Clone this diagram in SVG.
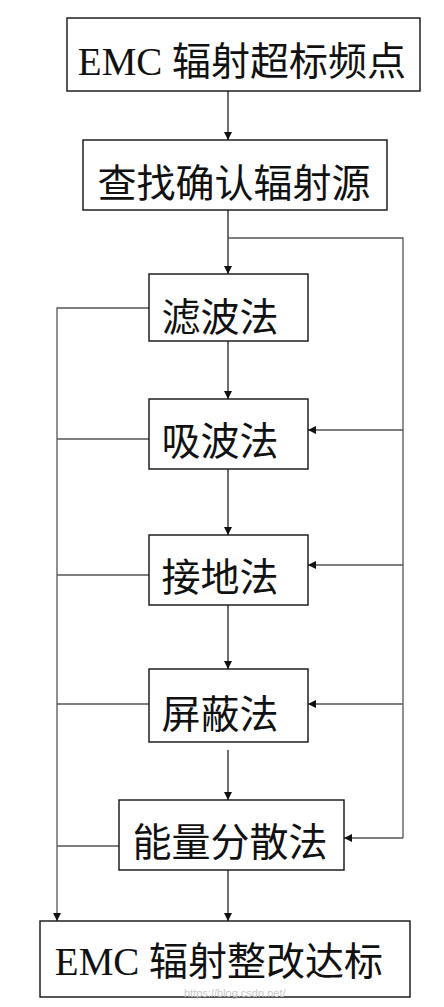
<svg xmlns="http://www.w3.org/2000/svg" width="444" height="1007" viewBox="0 0 444 1007">
<style>
.box{fill:#fff;stroke:#111;stroke-width:1.4}
.t{font-family:"Liberation Serif","Noto Sans CJK SC",serif;font-size:39px;fill:#111;text-anchor:middle}
.c{fill:none;stroke:#222;stroke-width:1.3}
.s{fill:none;stroke:#555;stroke-width:1.3}
.wm{font-family:"Liberation Sans",sans-serif;font-size:11px;fill:#c8c8c8}
</style>
<defs>
<marker id="ah" viewBox="0 0 10 10" refX="10" refY="5" markerWidth="9" markerHeight="8" markerUnits="userSpaceOnUse" orient="auto">
<path d="M0,0 L10,5 L0,10 z" fill="#111"/>
</marker>
</defs>
<g id="connectors">
<path class="c" d="M228,91 V140" marker-end="url(#ah)"/>
<path class="c" d="M228,210 V274" marker-end="url(#ah)"/>
<path class="s" d="M228,238 H403 V838"/>
<path class="c" d="M228,341 V399" marker-end="url(#ah)"/>
<path class="c" d="M228,469 V535" marker-end="url(#ah)"/>
<path class="c" d="M228,605 V669" marker-end="url(#ah)"/>
<path class="c" d="M228,750 V800" marker-end="url(#ah)"/>
<path class="c" d="M228,870 V921" marker-end="url(#ah)"/>
<path class="s" d="M403,430 H308" marker-end="url(#ah)"/>
<path class="s" d="M403,565 H308" marker-end="url(#ah)"/>
<path class="s" d="M403,704 H308" marker-end="url(#ah)"/>
<path class="s" d="M403,838 H344" marker-end="url(#ah)"/>
<path class="s" d="M149,308 H57 V921" marker-end="url(#ah)"/>
<path class="s" d="M149,439 H57"/>
<path class="s" d="M149,575 H57"/>
<path class="s" d="M149,704 H57"/>
<path class="s" d="M119,846 H57"/>
</g>
<g id="n1"><rect class="box" x="67" y="18" width="353" height="73"/><text class="t" x="242" y="75">EMC 辐射超标频点</text></g>
<g id="n2"><rect class="box" x="83" y="140" width="304" height="70"/><text class="t" x="234" y="197">查找确认辐射源</text></g>
<g id="n3"><rect class="box" x="149" y="274" width="159" height="67"/><text class="t" x="220" y="331">滤波法</text></g>
<g id="n4"><rect class="box" x="149" y="399" width="159" height="70"/><text class="t" x="220" y="455">吸波法</text></g>
<g id="n5"><rect class="box" x="149" y="535" width="159" height="70"/><text class="t" x="220" y="591">接地法</text></g>
<g id="n6"><rect class="box" x="149" y="669" width="159" height="73"/><text class="t" x="220" y="728">屏蔽法</text></g>
<g id="n7"><rect class="box" x="119" y="800" width="225" height="70"/><text class="t" x="230" y="856">能量分散法</text></g>
<g id="n8"><rect class="box" x="40" y="921" width="370" height="76"/><text class="t" x="219" y="975">EMC 辐射整改达标</text></g>
<text class="wm" x="184" y="997">https://blog.csdn.net/</text>
</svg>
